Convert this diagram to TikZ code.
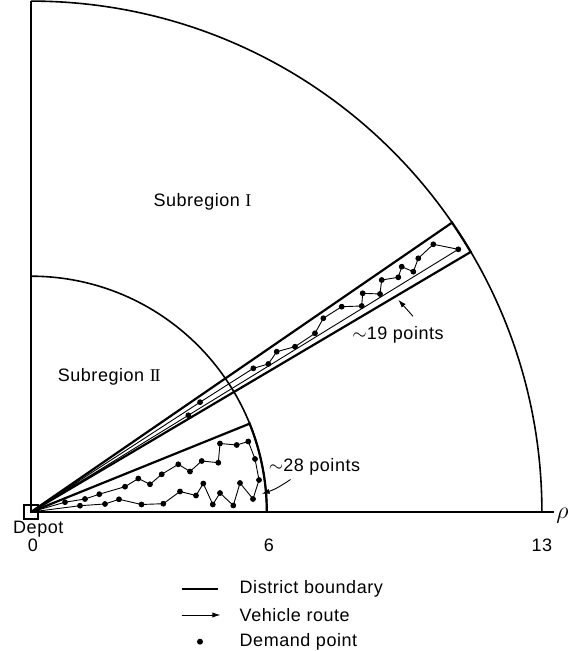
\documentclass[tikz,border=0pt]{standalone}
\usepackage{fontspec}
\setmainfont{Liberation Sans}[LetterSpace=3]
\newfontfamily\romfont{Liberation Serif}
\usetikzlibrary{arrows.meta}

\begin{document}
\begin{tikzpicture}[x=19.65pt, y=19.65pt,
        every node/.style={font=\fontsize{9}{11}\selectfont, inner sep=1pt},
        region/.style={line width=0.8pt},
        district/.style={line width=1.1pt},
        route/.style={line width=0.45pt},
        leader/.style={line width=0.45pt, -{Latex[length=4pt,width=2.6pt]}}]
        \useasboundingbox (-0.789,-3.537) rectangle (13.868,13.028);

        % axes and the two subregions
        \draw[region] (0,13) -- (0,0) -- (13.3,0) node (rho) [right, yshift=-2pt, font=\fontsize{12}{14}\selectfont] {$\rho$};
        \draw[region] (13,0) arc (0:90:13);
        \draw[region] (6,0) arc (0:90:6);

        % districts
        \draw[district] (0,0) -- (22:6) arc (22:0:6);
        \draw[district] (0,0) -- (34.5:13) arc (34.5:30.6:13) -- cycle;

        \node (depot) at (0,0) [draw, line width=0.6pt, minimum size=7pt, inner sep=0pt] {};
        \node (depotlbl) at (0.186,-0.438) {Depot};
        \node (tick0) at (0.05,-0.84) {0};
        \node (tick6) at (6.05,-0.84) {6};
        \node (tick13) at (13,-0.84) {13};

        \node (sub1) at (4.364,7.896) {Subregion {\romfont I}};
        \node (sub2) at (1.990,3.427) {Subregion {\romfont I\kern-0.6pt I}};

        % vehicle routes
        \draw[route] plot[mark=*, mark size=1.2pt, mark indices={2,...,30}] coordinates {
            (0,0) (1.247,0.160) (1.883,0.204) (2.239,0.323) (2.812,0.191) (3.366,0.211)
            (3.791,0.522) (4.198,0.420) (4.384,0.725) (4.626,0.191) (4.809,0.483)
            (5.148,0.165) (5.318,0.738) (5.649,0.331) (5.802,0.814) (5.700,1.349)
            (5.529,1.794) (5.234,1.705) (4.809,1.743) (4.766,1.254) (4.344,1.298)
            (4.046,1.031) (3.748,1.214) (3.326,0.959) (3.028,0.705) (2.730,0.852)
            (2.392,0.644) (1.738,0.453) (1.374,0.331) (0.865,0.249) (0,0)};
        \draw[route] plot[mark=*, mark size=1.2pt, mark indices={2,...,20}] coordinates {
            (0,0) (33:5.13) (5.657,3.656) (6.038,3.766) (6.252,4.079) (6.718,4.206)
            (7.226,4.547) (7.438,4.929) (7.906,5.224) (8.415,5.242) (8.440,5.565)
            (8.880,5.547) (8.924,5.903) (9.346,5.972) (9.433,6.242) (9.728,6.115)
            (9.855,6.455) (10.237,6.812) (10.873,6.684) (31.58:4.7) (0,0)};

        % point counts
        \node (pts19) at (9.34,4.50) {$\sim$19 points};
        \coordinate (tip19) at (9.346,5.40);
        \draw[leader] ([xshift=7.5pt,yshift=4pt]pts19.north) -- (tip19);
        \node (pts28) at (7.214,1.153) {$\sim$28 points};
        \coordinate (tip28) at (5.87,0.46);
        \draw[leader] ([xshift=12pt,yshift=-1pt]pts28.south west) to[bend left=8] (tip28);

        % legend
        \draw[district] (3.834,-1.959) -- (4.766,-1.959);
        \node (lgdist) at (5.25,-1.959) [right] {District boundary};
        \draw[route, -{Latex[length=4pt,width=2.6pt]}] (3.834,-2.621) -- (4.82,-2.621);
        \node (lgroute) at (5.25,-2.621) [right] {Vehicle route};
        \fill (4.30,-3.30) circle (1.5pt);
        \node (lgpoint) at (5.25,-3.30) [right] {Demand point};
    \end{tikzpicture}
\end{document}
